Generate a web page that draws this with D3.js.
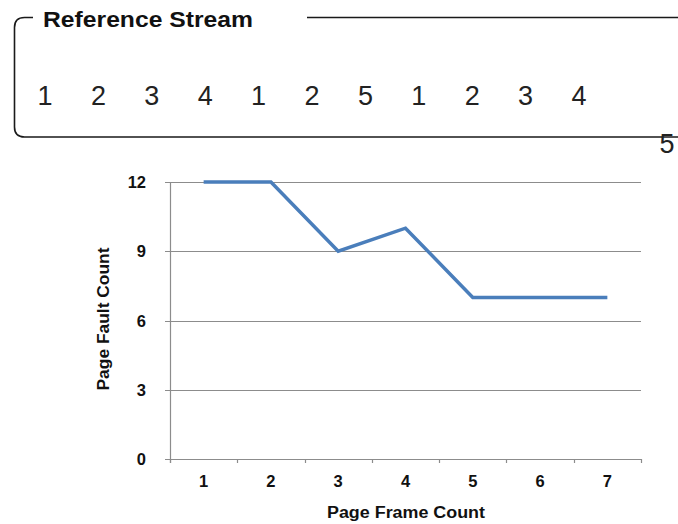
<!DOCTYPE html>
<html>
<head>
<meta charset="utf-8">
<script src="https://cdn.jsdelivr.net/npm/d3@7"></script>
<style>
  html, body { margin: 0; padding: 0; background: #fff; }
  svg { display: block; }
</style>
</head>
<body>
<svg id="chart" width="678" height="524"></svg>
<script>
// ---- data ----
const referenceStream = [1, 2, 3, 4, 1, 2, 5, 1, 2, 3, 4, 5];
const frameCounts = [1, 2, 3, 4, 5, 6, 7];
const faultCounts = [12, 12, 9, 10, 7, 7, 7];
const yTicks = [0, 3, 6, 9, 12];
const streamTitle = "Reference Stream";
const xTitle = "Page Frame Count";
const yTitle = "Page Fault Count";

const svg = d3.select("#chart");
const FONT = "'Liberation Sans', Arial, Helvetica, sans-serif";

// ---- reference stream box ----
const box = d3.path();
const bx = 14.5, by = 17.5, bb = 137, r = 10;
box.moveTo(33, by);
box.lineTo(bx + r, by);
box.quadraticCurveTo(bx, by, bx, by + r);
box.lineTo(bx, bb - r);
box.quadraticCurveTo(bx, bb, bx + r, bb);
box.lineTo(678, bb);
svg.append("path").attr("d", box.toString())
  .attr("fill", "none").attr("stroke", "#1a1a1a").attr("stroke-width", 1.6);
svg.append("line").attr("x1", 307).attr("x2", 678).attr("y1", by).attr("y2", by)
  .attr("stroke", "#1a1a1a").attr("stroke-width", 1.6);

svg.append("text").attr("x", 43).attr("y", 27)
  .attr("font-family", FONT).attr("font-weight", "bold").attr("font-size", 22)
  .attr("textLength", 210).attr("lengthAdjust", "spacingAndGlyphs")
  .attr("fill", "#111").text(streamTitle);

const firstRow = referenceStream.slice(0, 11);
const streamX = d3.scaleLinear().domain([0, firstRow.length - 1]).range([45, 579]);
svg.append("g").selectAll("text").data(firstRow).join("text")
  .attr("x", (d, i) => streamX(i)).attr("y", 105)
  .attr("text-anchor", "middle")
  .attr("font-family", FONT).attr("font-size", 27).attr("font-weight", 300)
  .attr("fill", "#222").text(d => d);
// the wrapped last item
svg.append("text").attr("x", 667).attr("y", 153)
  .attr("text-anchor", "middle")
  .attr("font-family", FONT).attr("font-size", 27).attr("font-weight", 300)
  .attr("fill", "#222").text(referenceStream[referenceStream.length - 1]);

// ---- chart ----
const pLeft = 170, pRight = 641, pTop = 182, pBottom = 459;
const x = d3.scaleBand().domain(frameCounts).range([pLeft, pRight]);
const y = d3.scaleLinear().domain([0, 12]).range([pBottom, pTop]);
const grid = "#8c8c8c";

// gridlines (with small outer ticks)
svg.append("g").selectAll("line").data(yTicks).join("line")
  .attr("x1", pLeft - 5).attr("x2", pRight)
  .attr("y1", d => Math.round(y(d)) + 0.5).attr("y2", d => Math.round(y(d)) + 0.5)
  .attr("stroke", grid).attr("stroke-width", 1.2);

// y axis line
svg.append("line").attr("x1", pLeft + 0.5).attr("x2", pLeft + 0.5)
  .attr("y1", pTop).attr("y2", pBottom + 4)
  .attr("stroke", grid).attr("stroke-width", 1.2);

// x ticks at band boundaries
const boundaries = frameCounts.map(d => x(d)).concat([pRight]);
svg.append("g").selectAll("line").data(boundaries).join("line")
  .attr("x1", d => Math.round(d) + 0.5).attr("x2", d => Math.round(d) + 0.5)
  .attr("y1", pBottom).attr("y2", pBottom + 4)
  .attr("stroke", grid).attr("stroke-width", 1.2);

// y tick labels
svg.append("g").selectAll("text").data(yTicks).join("text")
  .attr("x", 146).attr("y", d => y(d) + 6)
  .attr("text-anchor", "end")
  .attr("font-family", FONT).attr("font-weight", "bold").attr("font-size", 16.5)
  .attr("fill", "#111").text(d => d);

// x tick labels
svg.append("g").selectAll("text").data(frameCounts).join("text")
  .attr("x", d => x(d) + x.bandwidth() / 2).attr("y", 487)
  .attr("text-anchor", "middle")
  .attr("font-family", FONT).attr("font-weight", "bold").attr("font-size", 16.5)
  .attr("fill", "#111").text(d => d);

// axis titles
svg.append("text").attr("x", 406).attr("y", 518)
  .attr("text-anchor", "middle")
  .attr("font-family", FONT).attr("font-weight", "bold").attr("font-size", 16)
  .attr("textLength", 158).attr("lengthAdjust", "spacingAndGlyphs")
  .attr("fill", "#111").text(xTitle);

svg.append("text")
  .attr("transform", "translate(109,319) rotate(-90)")
  .attr("text-anchor", "middle")
  .attr("font-family", FONT).attr("font-weight", "bold").attr("font-size", 16)
  .attr("textLength", 143).attr("lengthAdjust", "spacingAndGlyphs")
  .attr("fill", "#111").text(yTitle);

// line
const line = d3.line()
  .x((d, i) => x(frameCounts[i]) + x.bandwidth() / 2)
  .y(d => y(d));
svg.append("path").datum(faultCounts)
  .attr("d", line)
  .attr("fill", "none").attr("stroke", "#4a7ebb").attr("stroke-width", 3.5)
  .attr("stroke-linejoin", "miter");
</script>
</body>
</html>
